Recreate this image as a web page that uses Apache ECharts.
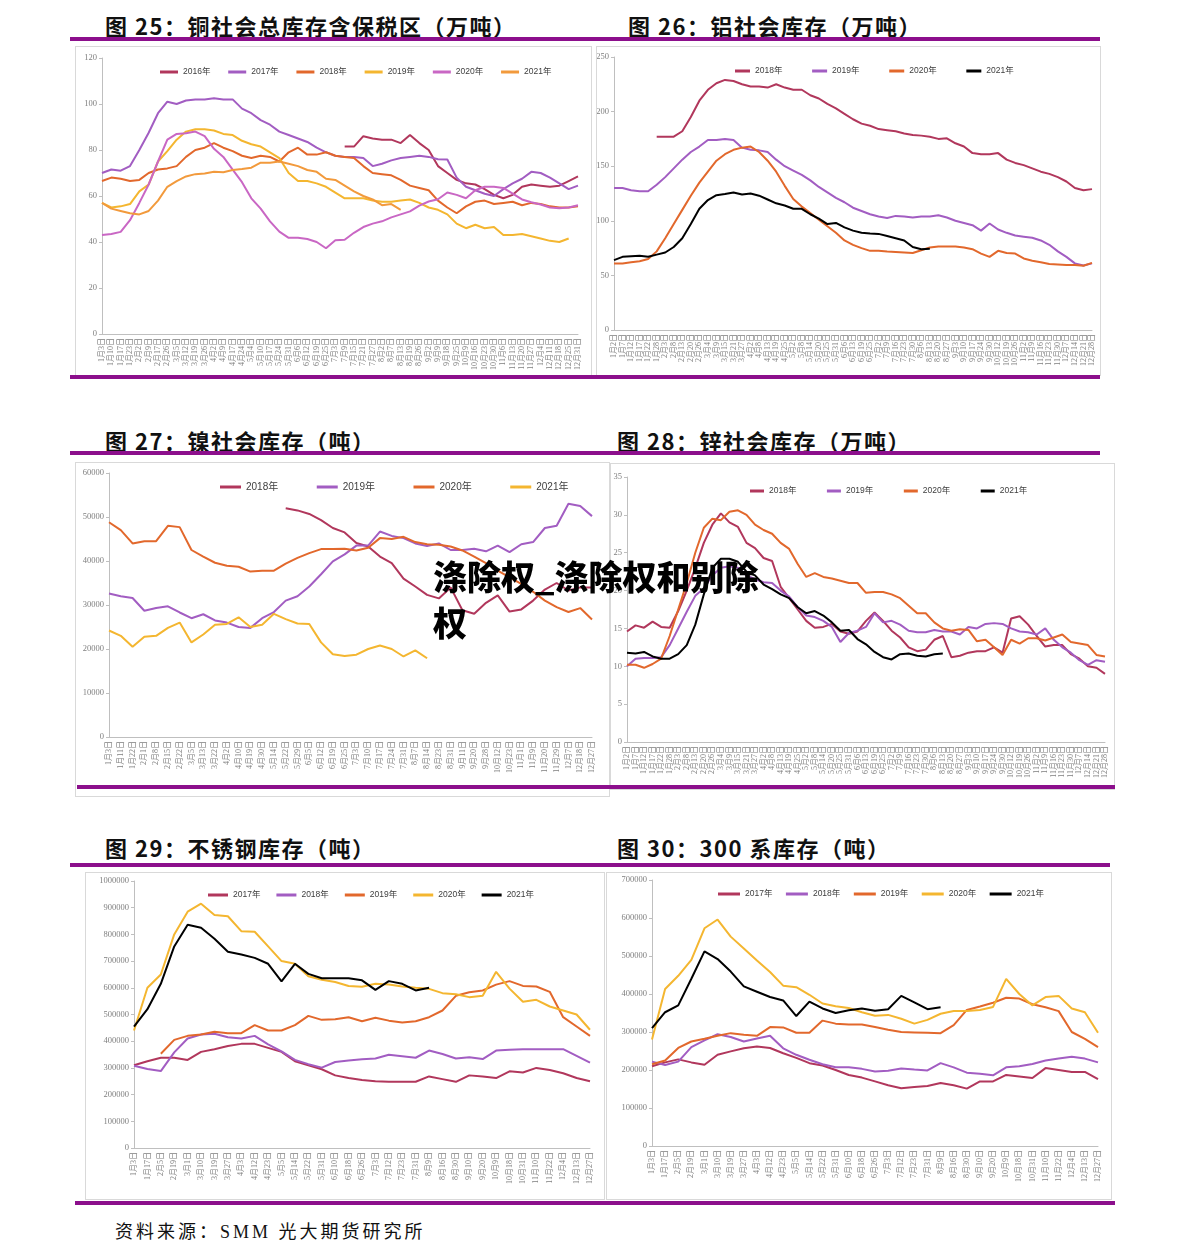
<!DOCTYPE html>
<html>
<head>
<meta charset="utf-8">
<script src="https://cdn.jsdelivr.net/npm/echarts@6/dist/echarts.min.js"></script>
<style>
  body { margin: 0; width: 1191px; height: 1260px; background: #fff; position: relative; overflow: hidden; font-family: "Noto Sans CJK SC", sans-serif; }
  .title { position: absolute; font-size: 22px; font-weight: 700; letter-spacing: 1.5px; line-height: 26px; color: #111; white-space: nowrap; }
  .rule { position: absolute; height: 4px; background: #8c0f8c; }
  .frame { position: absolute; border: 1px solid #d9d9d9; box-sizing: border-box; }
  .chart { position: absolute; }
  .mark { position: absolute; left: 433px; top: 553px; font-size: 34px; font-weight: 900; line-height: 46px; color: #000; z-index: 10; white-space: nowrap; }
  .foot { position: absolute; left: 115px; top: 1219px; font-family: "Liberation Serif", "Noto Sans CJK SC", serif; font-size: 18px; letter-spacing: 3px; line-height: 26px; color: #111; }
</style>
</head>
<body>
<div class="title" style="left:105px;top:12px">图 25：铜社会总库存含保税区（万吨）</div>
<div class="title" style="left:628px;top:12px">图 26：铝社会库存（万吨）</div>
<div class="rule" style="left:70px;top:37px;width:1030px"></div>
<div class="frame" style="left:75px;top:46px;width:517px;height:330px"></div>
<div class="frame" style="left:596px;top:46px;width:505px;height:330px"></div>
<div class="chart" id="c25"></div>
<div class="chart" id="c26"></div>
<div class="rule" style="left:70px;top:375px;width:1030px"></div>

<div class="title" style="left:105px;top:427px">图 27：镍社会库存（吨）</div>
<div class="title" style="left:617px;top:427px">图 28：锌社会库存（万吨）</div>
<div class="rule" style="left:70px;top:451px;width:1030px"></div>
<div class="frame" style="left:75px;top:462px;width:535px;height:335px"></div>
<div class="frame" style="left:610px;top:463px;width:505px;height:327px"></div>
<div class="chart" id="c27"></div>
<div class="chart" id="c28"></div>
<div class="rule" style="left:77px;top:785px;width:1038px"></div>

<div class="title" style="left:105px;top:834px">图 29：不锈钢库存（吨）</div>
<div class="title" style="left:617px;top:834px">图 30：300 系库存（吨）</div>
<div class="rule" style="left:70px;top:863px;width:1040px"></div>
<div class="frame" style="left:85px;top:872px;width:520px;height:328px"></div>
<div class="frame" style="left:606px;top:872px;width:506px;height:328px"></div>
<div class="chart" id="c29"></div>
<div class="chart" id="c30"></div>
<div class="rule" style="left:75px;top:1201px;width:1040px"></div>

<div class="foot">资料来源：SMM 光大期货研究所</div>
<div class="mark">涤除权_涤除权和别除<br>权</div>

<script>
// ---- copper (图25), weekly
const cuDates = ['1月3日','1月10日','1月17日','1月23日','2月2日','2月9日','2月17日','2月26日','3月5日','3月12日','3月19日','3月26日','4月2日','4月9日','4月17日','4月24日','5月4日','5月10日','5月17日','5月24日','5月31日','6月6日','6月12日','6月19日','6月25日','7月3日','7月9日','7月15日','7月21日','7月27日','8月2日','8月7日','8月13日','8月19日','8月26日','9月2日','9月9日','9月18日','9月25日','10月9日','10月16日','10月23日','10月30日','11月6日','11月13日','11月20日','11月27日','12月4日','12月11日','12月18日','12月25日','12月31日']
const cu2016 = [null,null,null,null,null,null,null,null,null,null,null,null,null,null,null,null,null,null,null,null,null,null,null,null,null,null,
  81.5,81.5,86,85,84.5,84.5,83,86.5,83,80,73,70,67,65.5,65,63,60.5,59,60.5,64,65,64.5,64,64.5,66.5,68.5]
const cu2017 = [70,71.5,71,73,80,87.5,96,101,100,101.5,102,102,102.5,102,102,98,96,93,91,88,86.5,85,83.5,81,79,77.5,77,77,76.5,73,74,75.5,76.5,77,77.5,77,76,75.9,68,64,62.5,61,60,63,65.5,67.5,70.5,70,68,65.5,63,64.5]
const cu2018 = [66.5,68,67.5,66.5,67,70,71.5,72,73,77,80,81,83,81,79.5,77.5,76.5,77.5,77,75,79,81,78,78,79,77.5,77,76.5,73,70,69.5,69,67,64.5,63.5,62.5,58,55,52.5,55.5,57.5,58,56.5,57,57.5,56,57,56.5,55.5,55,55,55.5]
const cu2019 = [57,55,55.5,56.5,62,65,75,79.5,84.5,88,89,89,88.5,87,86.5,84,82.5,81.5,79,76.5,70,66.5,66.5,65.5,64,61.5,59,59,59,58,57.5,57.5,58,58.5,57,55,54,52,48,46,47.5,46,46.5,43,43,43.5,42.5,41.5,40.5,40,41.5]
const cu2020 = [43,43.5,44.4,49.5,57,65,75,84.5,87,87.3,88,86,80.5,77,71.5,66,59,54.5,49,44.5,41.8,41.8,41.3,40,37.3,40.8,41,44,46.5,48,49,50.7,52,53.3,55.8,57.6,58.6,61.5,60.5,59,62.5,64,64,63.5,61,58.5,57.3,56.3,55,54.7,55,56]
const cu2021 = [57,54.5,53.5,52.5,52,53.5,58,64,66.5,68.5,69.5,69.8,70.5,70.3,71.3,71.7,72.3,74.5,74.5,75,74,73,71.3,70.5,67.5,67,64.5,62,60,58.5,56,56.5,54]

// ---- aluminium (图26) and zinc (图28) share the SMM calendar
const smmDates = ['1月2日','1月7日','1月12日','1月17日','1月22日','1月28日','2月3日','2月8日','2月13日','2月20日','2月26日','3月4日','3月9日','3月15日','3月21日','3月27日','4月2日','4月8日','4月13日','4月19日','4月25日','5月2日','5月8日','5月14日','5月20日','5月25日','5月31日','6月6日','6月13日','6月19日','6月25日','7月2日','7月9日','7月16日','7月23日','7月30日','8月6日','8月13日','8月20日','8月27日','9月3日','9月10日','9月17日','9月24日','9月30日','10月12日','10月19日','10月26日','11月2日','11月9日','11月16日','11月23日','11月30日','12月7日','12月14日','12月21日','12月28日']
const al2018 = [null,null,null,null,null,
  177,177,177,182,195,210,220,226,229,228,225,223,223,222,225,222,220,220,215,212,207,203,198,193,189,187,184,183,182,180,178.5,178,177,175,175.5,171,168,162,161,161,162,156,153,151,148,145,143,140,136,130,128,129]
const al2019 = [130,130,128,127,127,133,140,148,156,163,168,174,174,175,174,167,165,164.5,163,156,150,146,142,137,131,126,121,117,112,109,106,104,102.5,104.5,104,103,104,104,105,103,100,98,96,91,97.5,92,89,86.5,85.5,84.5,82,78,72,67,61,59,61]
const al2020 = [61,61,62,63,65,72,84,97,110,123,135,145,155,161,165,167,168,163,155,145,132,120,113,107,101,95,89,82,78,75,72.5,72.5,71.8,71.5,71,70.5,73,75.5,76.5,76.5,76.5,75.5,74,70,67,72.5,70.5,70,65.5,63.5,62,60.5,60,59.5,59.5,58.8,61.5]
const al2021 = [64,67,67.5,68,67,69,71,76,84,97,111,119,123.5,124.5,126,124,125,123,119.5,116,114,111,111,106,102,97,98,94,91,89,88.4,88,86,84,82,76,74,74.5]

const zn2018 = [14.6,15.4,15.1,15.9,15.2,15.1,17.3,20,23,26.3,28.7,30.2,29,28.4,26.3,25.6,24.3,23.9,20.5,19,17.5,16,15.1,15.2,15.6,14.6,14.3,14.6,16,17.1,16,14.7,13.8,12.5,12,12.2,13.5,14,11.2,11.4,11.8,12,12,12.5,11.8,16.3,16.6,15.5,14,12.6,12.8,12.8,11.6,11,10,9.8,9]
const zn2019 = [10,11,11.1,11.1,11.2,12.8,15,17.2,19.3,20.3,22,23,23.2,23,22,21.5,21.1,21,20,19.2,17.8,16.7,16.5,16,15.2,13.2,14.4,14.7,15.2,17,15.8,16,15.5,14.7,14.5,14.5,14.8,14.6,14.6,14.2,15.2,15,15.6,15.7,15.6,15,14.6,14.5,14.2,15,13.5,12.5,11.8,10.8,10.2,10.8,10.6]
const zn2020 = [10.2,10.2,9.8,10.3,11,14,17.5,21,25,28.3,29.5,29.3,30.4,30.6,30,28.7,28,27.5,26.3,25.5,23.5,21.8,22.3,21.8,21.6,21.3,21,21,19.7,19.8,19.8,19.5,19,18,17,17,15.8,15,14.7,14.9,14.8,13.3,13.5,12.5,11.5,13.5,13,13.7,13.7,13.4,13.8,14.2,13.2,13,12.8,11.5,11.3]
const zn2021 = [11.8,11.7,11.9,11.3,11,11,11.6,12.8,15.5,19.5,23,24.2,24.2,23.8,22.5,22,20.8,20.2,19.5,19,17.8,17,17.3,16.7,15.8,14.7,14.8,13.6,12.9,11.9,11.2,10.9,11.6,11.7,11.4,11.3,11.6,11.7]

// ---- nickel (图27)
const niDates = ['1月3日','1月11日','1月22日','2月1日','2月8日','2月15日','2月22日','3月5日','3月13日','3月22日','4月2日','4月10日','4月19日','4月30日','5月14日','5月22日','5月29日','6月5日','6月12日','6月19日','6月25日','7月3日','7月10日','7月17日','7月24日','7月31日','8月7日','8月14日','8月23日','8月31日','9月11日','9月20日','9月28日','10月12日','10月23日','11月1日','11月9日','11月20日','11月29日','12月7日','12月18日','12月27日']
const ni2018 = [null,null,null,null,null,null,null,null,null,null,null,null,null,null,null,
  52000,51500,50700,49300,47500,46500,44100,43300,41000,39500,36000,34200,32300,31500,34000,28800,28000,30500,32200,28500,29000,31000,33500,35000,33300,34000,34000]
const ni2019 = [32600,32000,31600,28700,29300,29700,28300,27000,27900,26500,26000,25000,24800,27000,28400,31000,32000,34200,37000,39900,41500,43500,43500,46700,45700,45200,44000,43400,44000,42500,42500,42800,42200,43500,42000,43800,44300,47500,48000,53000,52500,50200]
const ni2020 = [48800,47000,44000,44500,44500,48000,47700,42500,41000,39600,38900,38700,37600,37800,37800,39400,40700,41800,42700,42700,42800,42400,43000,45200,45000,45500,44300,43800,43700,43300,42400,41000,39500,37800,36300,34800,33000,31000,29500,28400,29300,26700]
const ni2021 = [24200,23000,20500,22800,23000,24800,26000,21500,23300,25500,25700,27200,25000,25500,28000,26800,25800,25700,21500,18800,18400,18700,20000,20800,20000,18300,19700,17900]

// ---- stainless (图29) and 300 series (图30)
const ssDates = ['1月3日','1月17日','2月5日','2月19日','3月1日','3月10日','3月19日','3月27日','4月3日','4月12日','4月23日','5月5日','5月14日','5月22日','5月31日','6月10日','6月18日','6月26日','7月3日','7月12日','7月23日','7月31日','8月9日','8月16日','8月30日','9月10日','9月20日','10月9日','10月18日','10月31日','11月10日','11月22日','12月4日','12月13日','12月27日']
const ss2017 = [310000,325000,338000,338000,330000,360000,370000,382000,390000,390000,375000,360000,325000,310000,295000,272000,262000,255000,250000,248000,248000,248000,268000,258000,248000,272000,268000,262000,287000,283000,300000,292000,280000,262000,250000]
const ss2018 = [308000,296000,288000,358000,410000,425000,428000,415000,410000,420000,388000,362000,330000,314000,301000,322000,328000,332000,335000,349000,344000,338000,365000,352000,335000,340000,333000,365000,368000,370000,370000,370000,370000,345000,320000]
const ss2019 = [null,null,
  353000,405000,420000,425000,435000,430000,430000,460000,440000,440000,460000,495000,480000,482000,490000,475000,488000,477000,470000,475000,490000,515000,570000,583000,590000,612000,625000,607000,605000,585000,490000,455000,420000]
const ss2020 = [440000,600000,650000,800000,885000,915000,873000,868000,812000,810000,755000,700000,690000,643000,630000,622000,607000,604000,615000,612000,605000,600000,596000,580000,576000,565000,570000,660000,597000,548000,555000,530000,515000,500000,443000]
const ss2021 = [455000,520000,615000,755000,836000,825000,784000,735000,725000,712000,690000,624000,690000,652000,636000,636000,636000,628000,592000,625000,615000,590000,600000]

const s3_2017 = [210000,220000,228000,220000,214000,240000,249000,257000,262000,258000,244000,232000,218000,212000,200000,187000,180000,170000,160000,152000,155000,158000,166000,160000,151000,170000,170000,187000,183000,179000,205000,200000,195000,195000,176000]
const s3_2018 = [222000,213000,222000,260000,278000,294000,287000,275000,283000,290000,257000,240000,227000,215000,207000,207000,203000,196000,198000,204000,201000,199000,218000,207000,193000,190000,186000,207000,210000,216000,225000,230000,235000,230000,220000]
const s3_2019 = [215000,225000,258000,275000,282000,290000,297000,293000,290000,313000,312000,298000,298000,330000,322000,320000,320000,313000,306000,300000,299000,298000,297000,318000,358000,367000,377000,390000,388000,373000,365000,355000,300000,282000,260000]
const s3_2020 = [280000,413000,448000,490000,573000,596000,551000,520000,488000,458000,422000,418000,398000,375000,368000,363000,352000,343000,345000,335000,322000,332000,348000,355000,355000,358000,366000,440000,400000,370000,392000,395000,362000,352000,298000]
const s3_2021 = [310000,352000,370000,440000,512000,492000,459000,420000,406000,392000,383000,342000,380000,362000,350000,357000,362000,356000,360000,395000,378000,360000,365000]

const C = {
  crimson: '#b1375c', purple: '#a25dc2', orange: '#e2682c', yellow: '#f4b630',
  orchid: '#c967c4', amber: '#f29a3c', black: '#000000'
}

// box/plot/legend given in page pixels, converted to chart-local here
function makeChart(id, cfg) {
  const el = document.getElementById(id)
  const b = cfg.box
  el.style.left = b.x + 'px'
  el.style.top = b.y + 'px'
  el.style.width = b.w + 'px'
  el.style.height = b.h + 'px'
  const chart = echarts.init(el)
  const lg = cfg.legend
  chart.setOption({
    animation: false,
    grid: {
      left: cfg.plot.x0 - b.x, top: cfg.plot.y0 - b.y,
      width: cfg.plot.x1 - cfg.plot.x0, height: cfg.plot.y1 - cfg.plot.y0,
      containLabel: false, outerBoundsMode: 'none'
    },
    legend: {
      left: lg.x - b.x, top: lg.y - b.y - 6, padding: 0,
      icon: 'rect', itemWidth: lg.icon, itemHeight: 3,
      itemGap: lg.step - lg.icon - 5 - lg.tw,
      selectedMode: false,
      textStyle: {
        fontSize: lg.fs, lineHeight: 12, color: '#404040', width: lg.tw,
        fontFamily: '"Liberation Sans Narrow", "Liberation Sans", "Noto Sans CJK SC", sans-serif'
      },
      data: cfg.series.map(s => s.name)
    },
    xAxis: {
      type: 'category', data: cfg.dates, boundaryGap: false,
      axisLine: { show: true, lineStyle: { color: '#bfbfbf', width: 1 } },
      axisTick: { show: false },
      splitLine: { show: false },
      axisLabel: {
        rotate: 90, interval: 0, margin: 4, fontSize: 8, color: '#7f7f7f',
        fontFamily: '"Liberation Serif", "Noto Sans CJK SC", serif'
      }
    },
    yAxis: {
      type: 'value', min: cfg.y.min, max: cfg.y.max, interval: cfg.y.step,
      axisLine: { show: true, lineStyle: { color: '#bfbfbf', width: 1 } },
      axisTick: { show: true, length: 3, lineStyle: { color: '#bfbfbf' } },
      splitLine: { show: false },
      axisLabel: {
        margin: 5, fontSize: 8.5, color: '#7f7f7f',
        fontFamily: '"Liberation Serif", serif',
        formatter: v => String(v)   // plain numbers, no thousands separators
      }
    },
    series: cfg.series.map(s => ({
      name: s.name, type: 'line', data: s.data, symbol: 'none', showSymbol: false,
      connectNulls: false, lineStyle: { color: s.color, width: 2 },
      itemStyle: { color: s.color }, emphasis: { disabled: true }
    }))
  })
  return chart
}

makeChart('c25', {
  box: { x: 76, y: 47, w: 515, h: 327 },
  plot: { x0: 102, x1: 578, y0: 58, y1: 334 },
  legend: { x: 160, y: 72, icon: 18, step: 64.8, tw: 24, fs: 8.5 },
  y: { min: 0, max: 120, step: 20 },
  dates: cuDates,
  series: [
    { name: '2016年', data: cu2016, color: C.crimson },
    { name: '2017年', data: cu2017, color: C.purple },
    { name: '2018年', data: cu2018, color: C.orange },
    { name: '2019年', data: cu2019, color: C.yellow },
    { name: '2020年', data: cu2020, color: C.orchid },
    { name: '2021年', data: cu2021, color: C.amber }
  ]
})

makeChart('c26', {
  box: { x: 597, y: 47, w: 503, h: 327 },
  plot: { x0: 614, x1: 1092, y0: 57, y1: 330 },
  legend: { x: 735, y: 71, icon: 15, step: 73.7, tw: 24, fs: 8.5 },
  y: { min: 0, max: 250, step: 50 },
  dates: smmDates,
  series: [
    { name: '2018年', data: al2018, color: C.crimson },
    { name: '2019年', data: al2019, color: C.purple },
    { name: '2020年', data: al2020, color: C.orange },
    { name: '2021年', data: al2021, color: C.black }
  ]
})

makeChart('c27', {
  box: { x: 76, y: 463, w: 533, h: 321 },
  plot: { x0: 109, x1: 592, y0: 473, y1: 737 },
  legend: { x: 220, y: 487, icon: 21, step: 92.5, tw: 28, fs: 10 },
  y: { min: 0, max: 60000, step: 10000 },
  dates: niDates,
  series: [
    { name: '2018年', data: ni2018, color: C.crimson },
    { name: '2019年', data: ni2019, color: C.purple },
    { name: '2020年', data: ni2020, color: C.orange },
    { name: '2021年', data: ni2021, color: C.yellow }
  ]
})

makeChart('c28', {
  box: { x: 611, y: 464, w: 503, h: 320 },
  plot: { x0: 627, x1: 1105, y0: 477, y1: 742 },
  legend: { x: 750, y: 491, icon: 14, step: 73.5, tw: 24, fs: 8.5 },
  y: { min: 0, max: 35, step: 5 },
  dates: smmDates,
  series: [
    { name: '2018年', data: zn2018, color: C.crimson },
    { name: '2019年', data: zn2019, color: C.purple },
    { name: '2020年', data: zn2020, color: C.orange },
    { name: '2021年', data: zn2021, color: C.black }
  ]
})

makeChart('c29', {
  box: { x: 86, y: 873, w: 518, h: 326 },
  plot: { x0: 134, x1: 590, y0: 881, y1: 1148 },
  legend: { x: 208, y: 895, icon: 20, step: 65, tw: 24, fs: 8.5 },
  y: { min: 0, max: 1000000, step: 100000 },
  dates: ssDates,
  series: [
    { name: '2017年', data: ss2017, color: C.crimson },
    { name: '2018年', data: ss2018, color: C.purple },
    { name: '2019年', data: ss2019, color: C.orange },
    { name: '2020年', data: ss2020, color: C.yellow },
    { name: '2021年', data: ss2021, color: C.black }
  ]
})

makeChart('c30', {
  box: { x: 607, y: 873, w: 504, h: 326 },
  plot: { x0: 652, x1: 1098, y0: 880, y1: 1146 },
  legend: { x: 718, y: 894, icon: 22, step: 64.5, tw: 24, fs: 8.5 },
  y: { min: 0, max: 700000, step: 100000 },
  dates: ssDates,
  series: [
    { name: '2017年', data: s3_2017, color: C.crimson },
    { name: '2018年', data: s3_2018, color: C.purple },
    { name: '2019年', data: s3_2019, color: C.orange },
    { name: '2020年', data: s3_2020, color: C.yellow },
    { name: '2021年', data: s3_2021, color: C.black }
  ]
})
</script>
</body>
</html>
